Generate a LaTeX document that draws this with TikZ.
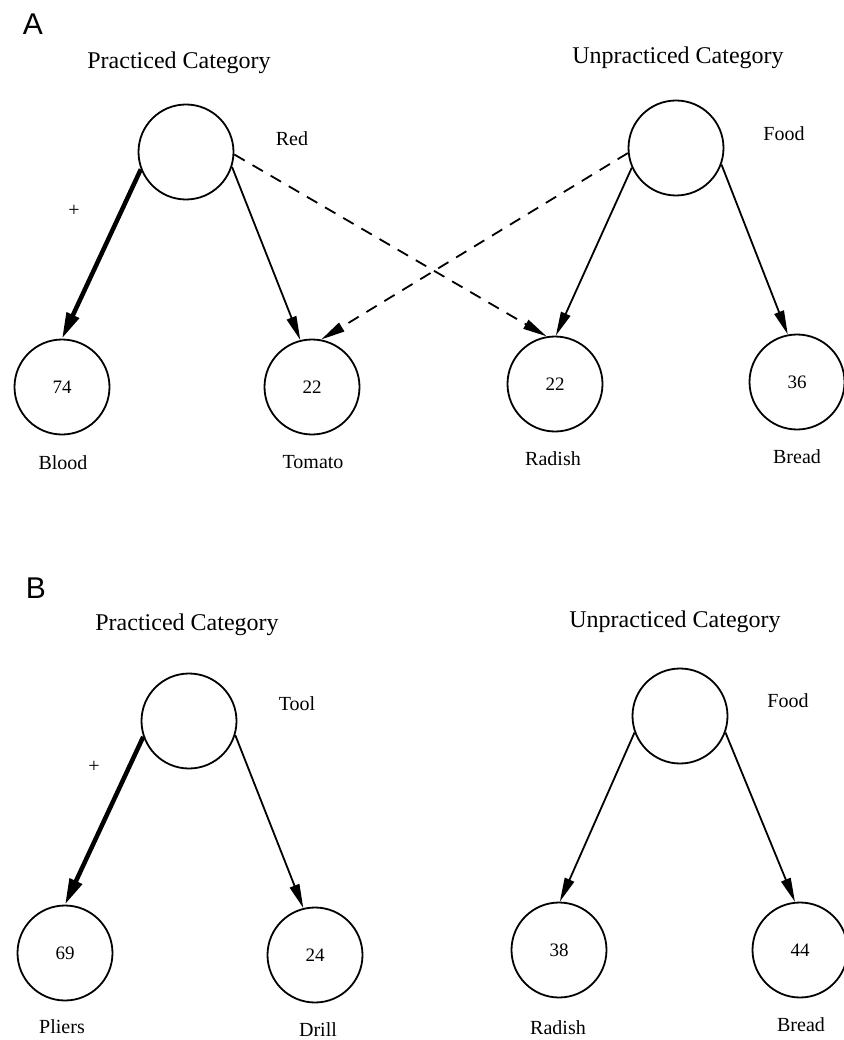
\documentclass[tikz,border=0pt]{standalone}
\usepackage{fontspec}
\setmainfont{Liberation Serif}
\newfontfamily\panelfont{Liberation Sans}
\usetikzlibrary{arrows.meta}
\begin{document}
\begin{tikzpicture}[x=1pt,y=-1pt,
  unit/.style={circle, draw, line width=1.8pt, minimum size=95pt, inner sep=0pt,
               font=\fontsize{19}{22}\selectfont},
  lbl/.style={inner sep=0pt, font=\fontsize{20}{24}\selectfont},
  head/.style={inner sep=0pt, font=\fontsize{24}{28}\selectfont},
  panel/.style={inner sep=0pt, font=\panelfont\fontsize{30}{34}\selectfont},
  link/.style={line width=1.8pt, -{Triangle[length=24pt,width=10pt]}},
  strong/.style={line width=4.5pt, -{Triangle[length=26pt,width=13pt]}},
  weak/.style={link, dash pattern=on 12pt off 9pt}]
\useasboundingbox (0,0) rectangle (843,1040);

% ---------------- Panel A ----------------
\node[panel] (pA) at (33,24) {A};
\node[head] (hA1) at (179,63) {Practiced Category};
\node[head] (hA2) at (678,58) {Unpracticed Category};

\node[unit] (tA1) at (186,152) {};
\node[unit] (tA2) at (676,148) {};
\node[lbl] (cA1) at (292,139) {Red};
\node[lbl] (cA2) at (784,134) {Food};
\node[lbl] (plusA) at (74,211) {+};

\node[unit] (bA1) at (62,387) {74};
\node[unit] (bA2) at (312,387) {22};
\node[unit] (bA3) at (555,384) {22};
\node[unit] (bA4) at (797,382) {36};

\node[lbl] (nA1) at (63,463) {Blood};
\node[lbl] (nA2) at (313,462) {Tomato};
\node[lbl] (nA3) at (553,459) {Radish};
\node[lbl] (nA4) at (797,457) {Bread};

\draw[strong] (tA1.201) -- (bA1.90);
\draw[link]   (tA1.342) -- (bA2.104);
\draw[weak]   (tA1.357) -- (bA3.100);
\draw[weak]   (tA2.186) -- (bA2.79);
\draw[link]   (tA2.204) -- (bA3.89);
\draw[link]   (tA2.340) -- (bA4.101);

% ---------------- Panel B ----------------
\node[panel] (pB) at (36,588) {B};
\node[head] (hB1) at (187,625) {Practiced Category};
\node[head] (hB2) at (675,622) {Unpracticed Category};

\node[unit] (tB1) at (189,721) {};
\node[unit] (tB2) at (680,716) {};
\node[lbl] (cB1) at (297,704) {Tool};
\node[lbl] (cB2) at (788,701) {Food};
\node[lbl] (plusB) at (94,767) {+};

\node[unit] (bB1) at (65,953) {69};
\node[unit] (bB2) at (315,955) {24};
\node[unit] (bB3) at (559,950) {38};
\node[unit] (bB4) at (800,950) {44};

\node[lbl] (nB1) at (62,1027) {Pliers};
\node[lbl] (nB2) at (318,1030) {Drill};
\node[lbl] (nB3) at (558,1028) {Radish};
\node[lbl] (nB4) at (801,1025) {Bread};

\draw[strong] (tB1.199) -- (bB1.90);
\draw[link]   (tB1.343) -- (bB2.104);
\draw[link]   (tB2.200) -- (bB3.89);
\draw[link]   (tB2.340) -- (bB4.96);
\end{tikzpicture}
\end{document}
